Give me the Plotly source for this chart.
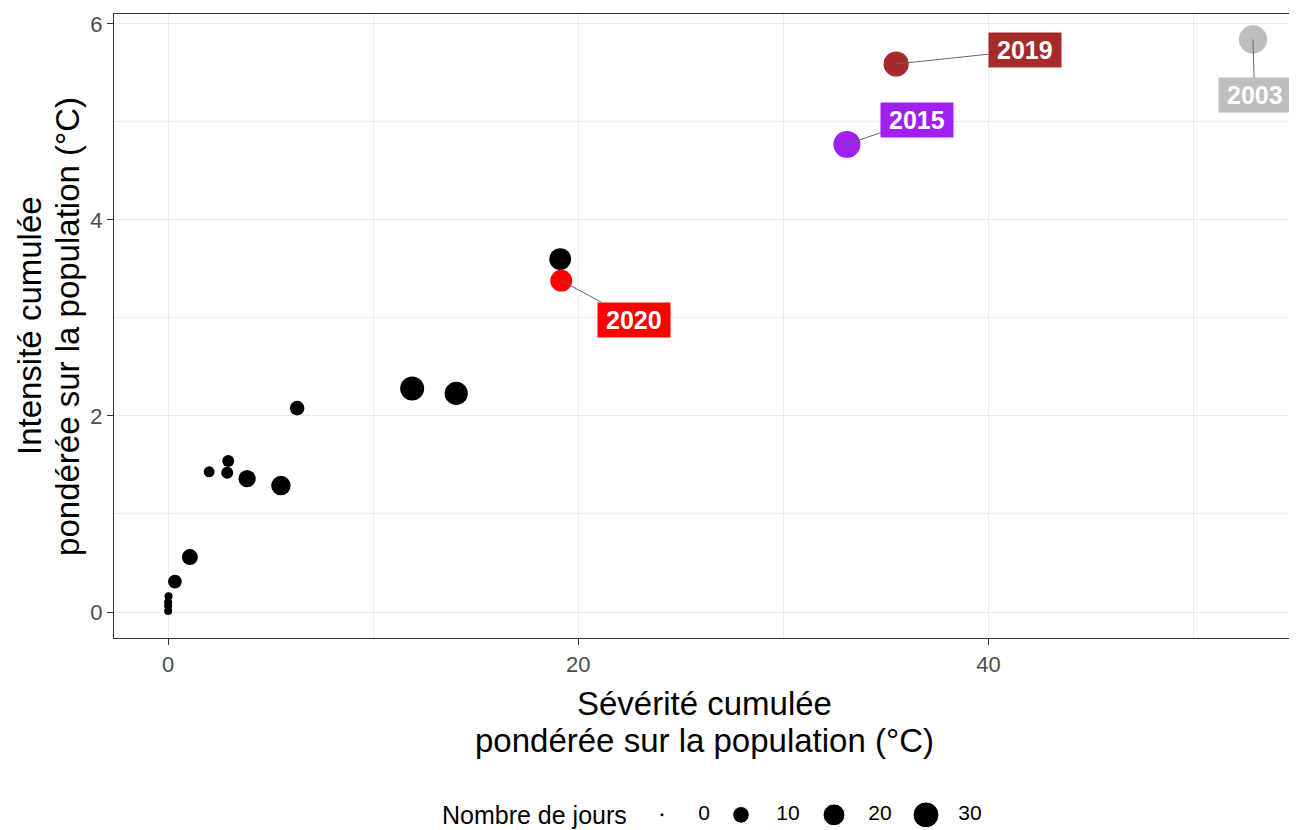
import numpy as np
import plotly.graph_objects as go

# ---------------- data ----------------
# other years (black points)
sev_other = [0.0, 0.0, 0.0, 0.02, 0.33, 1.06, 2.0, 2.88, 2.93, 3.85, 5.5, 6.29, 11.9, 14.05, 19.12]
int_other = [0.01, 0.06, 0.10, 0.16, 0.31, 0.56, 1.43, 1.42, 1.54, 1.36, 1.29, 2.08, 2.28, 2.23, 3.60]
days_other = [1, 1, 1, 1, 6, 9, 3, 4, 4, 11, 15, 7, 25, 23, 20]

# highlighted years
years_hl = ["2020", "2015", "2019", "2003"]
sev_hl = [19.17, 33.1, 35.5, 52.9]
int_hl = [3.38, 4.77, 5.59, 5.84]
days_hl = [20, 33, 28, 37]
colors_hl = ["#FF0000", "#A020F0", "#A52A2A", "#BEBEBE"]

# size legend values
legend_days = [0, 10, 20, 30]

# ---------------- layout helpers ----------------
# repelled label positions, in data units
lab_x = [22.73, 36.54, 41.8, 52.98]
lab_y = [2.98, 5.02, 5.73, 5.27]
# legend item positions (page pixels)
legend_dot_x = [662, 741, 834, 926]
legend_lab_x = [704, 788, 880, 970]

FONT = "Liberation Sans, Arial, sans-serif"
THIN = "\u2009"


def diam(v):
    return 4 + 4.0 * np.sqrt(np.asarray(v, dtype=float))


fig = go.Figure()

fig.add_trace(go.Scatter(
    x=sev_other, y=int_other, mode="markers",
    marker=dict(size=diam(days_other), sizemode="diameter", color="black",
                opacity=1, line=dict(width=0)),
    showlegend=False, cliponaxis=False,
))
fig.add_trace(go.Scatter(
    x=sev_hl, y=int_hl, mode="markers",
    marker=dict(size=diam(days_hl), sizemode="diameter", color=colors_hl,
                opacity=1, line=dict(width=0)),
    showlegend=False, cliponaxis=False,
))

for yr, x, y, lx, ly, c in zip(years_hl, sev_hl, int_hl, lab_x, lab_y, colors_hl):
    fig.add_annotation(
        x=x, y=y, ax=lx, ay=ly, axref="x", ayref="y", xref="x", yref="y",
        text=f"<b>{THIN}{yr}{THIN}</b>", showarrow=True, arrowhead=0, arrowwidth=1,
        arrowcolor="#666666", standoff=0, startstandoff=0,
        bgcolor=c, borderpad=3, font=dict(family=FONT, size=25, color="white"),
    )

# axis titles (two lines each, ggplot-like spacing)
TITLE_FONT = dict(family=FONT, size=33, color="black")
fig.add_annotation(x=0.5, y=-0.1042, xref="x domain", yref="y domain",
                   text="Sévérité cumulée", showarrow=False,
                   xanchor="center", yanchor="middle", font=TITLE_FONT)
fig.add_annotation(x=0.5, y=-0.1635, xref="x domain", yref="y domain",
                   text="pondérée sur la population (°C)", showarrow=False,
                   xanchor="center", yanchor="middle", font=TITLE_FONT)
fig.add_annotation(x=-0.0711, y=0.5, xref="x domain", yref="y domain",
                   text="Intensité cumulée", showarrow=False, textangle=-90,
                   xanchor="center", yanchor="middle", font=TITLE_FONT)
fig.add_annotation(x=-0.039, y=0.5, xref="x domain", yref="y domain",
                   text="pondérée sur la population (°C)", showarrow=False, textangle=-90,
                   xanchor="center", yanchor="middle", font=TITLE_FONT)

# legend drawn on an auxiliary pair of axes
fig.add_trace(go.Scatter(
    x=legend_dot_x, y=[0] * 4, xaxis="x2", yaxis="y2", mode="markers",
    marker=dict(size=diam(legend_days), sizemode="diameter", color="black", opacity=1),
    showlegend=False, cliponaxis=False, hoverinfo="skip",
))
fig.add_trace(go.Scatter(
    x=legend_lab_x, y=[0] * 4, xaxis="x2", yaxis="y2", mode="text",
    text=[str(v) for v in legend_days], textfont=dict(family=FONT, size=21, color="black"),
    showlegend=False, cliponaxis=False, hoverinfo="skip",
))
fig.add_annotation(
    x=629, y=0, xref="x2", yref="y2", text="Nombre de jours", showarrow=False,
    xanchor="right", yanchor="middle", font=dict(family=FONT, size=25, color="black"),
)

axis_common = dict(
    showline=True, mirror=True, linecolor="#333333", linewidth=1.3,
    ticks="outside", ticklen=6, tickcolor="#333333", tickwidth=1.3,
    showgrid=True, gridcolor="#EBEBEB", gridwidth=1.4, zeroline=False,
    tickfont=dict(family=FONT, size=22, color="#4D4D4D"),
)

# the page adds an 8px body margin: figure is 1289x822, offset by 8px
fig.update_layout(
    width=1289, height=822,
    margin=dict(l=106, r=2, t=6, b=5),
    paper_bgcolor="white", plot_bgcolor="white",
    font=dict(family=FONT, color="black"),
    xaxis=dict(
        range=[-2.64, 54.95], tickvals=[0, 20, 40], domain=[0, 1],
        minor=dict(tickvals=[10, 30, 50], showgrid=True, gridcolor="#EBEBEB", gridwidth=0.8, ticks=""),
        **axis_common,
    ),
    yaxis=dict(
        range=[-0.265, 6.1], tickvals=[0, 2, 4, 6], domain=[0.2306, 1],
        minor=dict(tickvals=[1, 3, 5], showgrid=True, gridcolor="#EBEBEB", gridwidth=0.8, ticks=""),
        **axis_common,
    ),
    xaxis2=dict(domain=[0, 1], range=[114, 1295], anchor="y2", visible=False, fixedrange=True),
    yaxis2=dict(domain=[0, 0.025], range=[-1, 1], anchor="x2", visible=False, fixedrange=True),
)

fig.write_html("out.html")
